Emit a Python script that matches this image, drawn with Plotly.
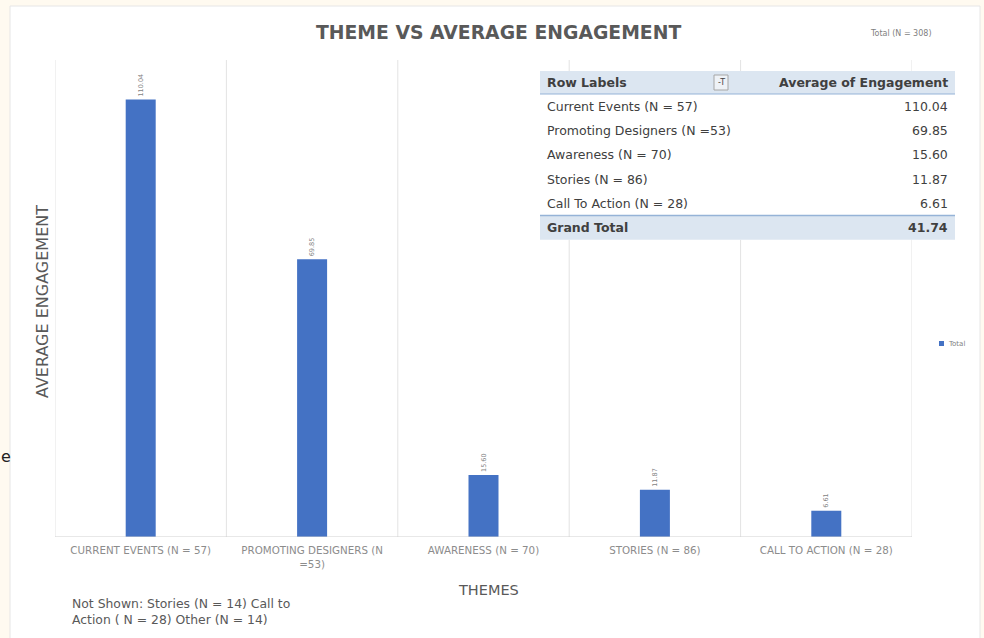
import plotly.graph_objects as go

# ---------------- data ----------------
categories = [
    "CURRENT EVENTS (N = 57)",
    "PROMOTING DESIGNERS (N<br>=53)",
    "AWARENESS (N = 70)",
    "STORIES (N = 86)",
    "CALL TO ACTION (N = 28)",
]
avg_engagement = [110.04, 69.85, 15.60, 11.87, 6.61]

table_labels = [
    "Current Events (N = 57)",
    "Promoting Designers (N =53)",
    "Awareness (N = 70)",
    "Stories (N = 86)",
    "Call To Action (N = 28)",
]
table_values = [110.04, 69.85, 15.60, 11.87, 6.61]
grand_total = 41.74

title_text = "THEME VS AVERAGE ENGAGEMENT"
subtitle_text = "Total (N = 308)"
footnote_text = "Not Shown: Stories (N = 14) Call to<br>Action ( N = 28) Other (N = 14)"

# ---------------- layout geometry (pixels) ----------------
W, H = 984, 638
PL, PR, PT, PB = 55, 912, 60, 537   # plot area in px


def px(x):
    return (x - PL) / (PR - PL)


def py(y):
    return (PB - y) / (PB - PT)


FONT = "DejaVu Sans"
GRAY = "#595959"
BLUE = "#4472c4"

fig = go.Figure()
fig.add_trace(go.Bar(
    x=list(range(len(categories))),
    y=avg_engagement,
    width=0.175,
    marker=dict(color=BLUE, line=dict(width=0)),
    text=[f"{v:.2f}" for v in avg_engagement],
    textposition="outside",
    textangle=-90,
    textfont=dict(size=6.5, color="#7f7f7f", family=FONT),
    cliponaxis=False,
    name="Total",
    showlegend=False,
))

shapes = []
# outer white panel
shapes.append(dict(type="rect", xref="paper", yref="paper",
                   x0=px(10), x1=px(980), y0=py(640), y1=py(6),
                   fillcolor="white", line=dict(color="#e6e6e6", width=1), layer="below"))
# vertical category gridlines
for b in [-0.5, 0.5, 1.5, 2.5, 3.5, 4.5]:
    shapes.append(dict(type="line", xref="x", yref="paper", x0=b, x1=b, y0=0, y1=1,
                       line=dict(color="#e3e3e3", width=1), layer="below"))
# baseline
shapes.append(dict(type="line", xref="paper", yref="y", x0=0, x1=1, y0=0, y1=0,
                   line=dict(color="#d0d0d0", width=1)))

# ---------------- pivot table overlay ----------------
TX0, TX1 = 540, 955
header_top, header_bot = 71, 94
row_h = 24.3
shapes.append(dict(type="rect", xref="paper", yref="paper",
                   x0=px(TX0), x1=px(TX1), y0=py(header_bot + row_h * 6), y1=py(header_top),
                   fillcolor="white", line=dict(width=0)))
shapes.append(dict(type="rect", xref="paper", yref="paper",
                   x0=px(TX0), x1=px(TX1), y0=py(header_bot), y1=py(header_top),
                   fillcolor="#dce6f1", line=dict(width=0)))
shapes.append(dict(type="line", xref="paper", yref="paper",
                   x0=px(TX0), x1=px(TX1), y0=py(header_bot), y1=py(header_bot),
                   line=dict(color="#95b3d7", width=1)))
gt_top = header_bot + row_h * 5
shapes.append(dict(type="rect", xref="paper", yref="paper",
                   x0=px(TX0), x1=px(TX1), y0=py(gt_top + row_h), y1=py(gt_top),
                   fillcolor="#dce6f1", line=dict(width=0)))
shapes.append(dict(type="line", xref="paper", yref="paper",
                   x0=px(TX0), x1=px(TX1), y0=py(gt_top), y1=py(gt_top),
                   line=dict(color="#95b3d7", width=1.5)))
# filter button
shapes.append(dict(type="rect", xref="paper", yref="paper",
                   x0=px(714), x1=px(728), y0=py(90), y1=py(75),
                   fillcolor="#eef2f7", line=dict(color="#a6a6a6", width=1)))

annotations = []
TF = 12.5
TC = "#404040"
annotations.append(dict(text="<b>Row Labels</b>", x=px(TX0 + 5), y=py((header_top + header_bot) / 2),
                        xref="paper", yref="paper", xanchor="left", yanchor="middle", showarrow=False,
                        font=dict(family=FONT, size=TF, color=TC)))
annotations.append(dict(text="-T", x=px(721), y=py(82.5),
                        xref="paper", yref="paper", xanchor="center", yanchor="middle", showarrow=False,
                        font=dict(family=FONT, size=8, color="#444444")))
annotations.append(dict(text="<b>Average of Engagement</b>", x=px(TX1 - 5), y=py((header_top + header_bot) / 2),
                        xref="paper", yref="paper", xanchor="right", yanchor="middle", showarrow=False,
                        font=dict(family=FONT, size=TF, color=TC)))
for i, (lab, val) in enumerate(zip(table_labels, table_values)):
    yc = header_bot + row_h * i + row_h / 2
    annotations.append(dict(text=lab, x=px(TX0 + 5), y=py(yc), xref="paper", yref="paper",
                            xanchor="left", yanchor="middle", showarrow=False,
                            font=dict(family=FONT, size=TF, color=TC)))
    annotations.append(dict(text=f"{val:.2f}", x=px(TX1 - 5), y=py(yc), xref="paper", yref="paper",
                            xanchor="right", yanchor="middle", showarrow=False,
                            font=dict(family=FONT, size=TF, color=TC)))
yc = gt_top + row_h / 2
annotations.append(dict(text="<b>Grand Total</b>", x=px(TX0 + 5), y=py(yc), xref="paper", yref="paper",
                        xanchor="left", yanchor="middle", showarrow=False,
                        font=dict(family=FONT, size=TF, color=TC)))
annotations.append(dict(text=f"<b>{grand_total:.2f}</b>", x=px(TX1 - 5), y=py(yc), xref="paper", yref="paper",
                        xanchor="right", yanchor="middle", showarrow=False,
                        font=dict(family=FONT, size=TF, color=TC)))

# titles / notes
annotations.append(dict(text=f"<b>{title_text}</b>", x=px(498), y=py(32), xref="paper", yref="paper",
                        xanchor="center", yanchor="middle", showarrow=False,
                        font=dict(family=FONT, size=18.8, color=GRAY)))
annotations.append(dict(text=subtitle_text, x=px(901), y=py(33), xref="paper", yref="paper",
                        xanchor="center", yanchor="middle", showarrow=False,
                        font=dict(family=FONT, size=8, color="#7f7f7f")))
annotations.append(dict(text="AVERAGE ENGAGEMENT", x=px(42), y=py(302), xref="paper", yref="paper",
                        xanchor="center", yanchor="middle", showarrow=False, textangle=-90,
                        font=dict(family=FONT, size=16, color=GRAY)))
annotations.append(dict(text="THEMES", x=px(488), y=py(590), xref="paper", yref="paper",
                        xanchor="center", yanchor="middle", showarrow=False,
                        font=dict(family=FONT, size=14.5, color=GRAY)))
annotations.append(dict(text=footnote_text, x=px(70), y=py(611.5), xref="paper", yref="paper",
                        xanchor="left", yanchor="middle", align="left", showarrow=False,
                        font=dict(family=FONT, size=12.4, color=GRAY)))
# legend
shapes.append(dict(type="rect", xref="paper", yref="paper",
                   x0=px(939), x1=px(944), y0=py(346), y1=py(341),
                   fillcolor=BLUE, line=dict(width=0)))
annotations.append(dict(text="Total", x=px(946), y=py(343.5), xref="paper", yref="paper",
                        xanchor="left", yanchor="middle", showarrow=False,
                        font=dict(family=FONT, size=7, color="#7f7f7f")))
# stray character at left edge
annotations.append(dict(text="e", x=px(-1), y=py(456), xref="paper", yref="paper",
                        xanchor="left", yanchor="middle", showarrow=False,
                        font=dict(family=FONT, size=16, color="#222222")))

fig.update_layout(
    width=W, height=H,
    margin=dict(l=PL, r=W - PR, t=PT, b=H - PB, pad=0),
    paper_bgcolor="#fffaf0",
    plot_bgcolor="white",
    showlegend=False,
    xaxis=dict(
        range=[-0.5, 4.5],
        tickmode="array",
        tickvals=list(range(len(categories))),
        ticktext=categories,
        tickangle=0,
        showgrid=False, zeroline=False, showline=False, ticks="",
        ticklabelstandoff=6,
        tickfont=dict(family=FONT, size=10.3, color="#8c8c8c"),
    ),
    yaxis=dict(range=[0, 120], showgrid=False, zeroline=False, showline=False,
               showticklabels=False, ticks=""),
    shapes=shapes,
    annotations=annotations,
)

fig.write_html("out.html")
